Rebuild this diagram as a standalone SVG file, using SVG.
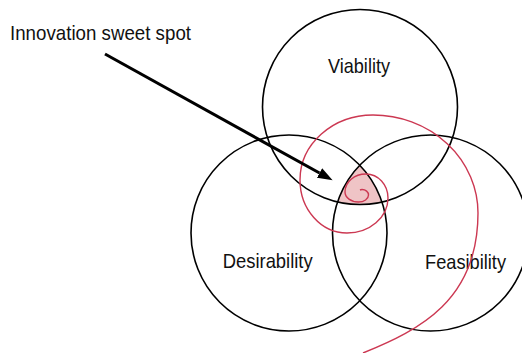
<svg xmlns="http://www.w3.org/2000/svg" width="522" height="353" viewBox="0 0 522 353">
<style>
.ring{fill:none;stroke:#000;stroke-width:1.6}
.lbl{font-family:"Liberation Sans Narrow","Liberation Sans","Arial",sans-serif;font-size:21px;fill:#111}
.spiral{fill:none;stroke:#cc3852;stroke-width:1.4}
.arrow{stroke:#000;stroke-width:3;fill:none}
</style>
<defs>
<clipPath id="cV"><circle cx="360" cy="107" r="97.5"/></clipPath>
<clipPath id="cD"><circle cx="289" cy="233" r="98"/></clipPath>
<marker id="ah" markerUnits="userSpaceOnUse" markerWidth="16" markerHeight="12" refX="0" refY="0" viewBox="0 -6 16 12" orient="auto">
<path d="M0,-5.5 L15,0 L0,5.5 z" fill="#000"/>
</marker>
</defs>
<g id="sweet-spot" clip-path="url(#cV)">
<circle cx="430.5" cy="233" r="98" fill="#efc4c6" clip-path="url(#cD)"/>
</g>
<g id="viability">
<circle class="ring" cx="360" cy="107" r="97.5"/>
<text class="lbl" x="328" y="73.3" textLength="62" lengthAdjust="spacingAndGlyphs">Viability</text>
</g>
<g id="desirability">
<circle class="ring" cx="289" cy="233" r="98"/>
<text class="lbl" x="222.7" y="267.7" textLength="90" lengthAdjust="spacingAndGlyphs">Desirability</text>
</g>
<g id="feasibility">
<circle class="ring" cx="430.5" cy="233" r="98"/>
<text class="lbl" x="425" y="269.3" textLength="81" lengthAdjust="spacingAndGlyphs">Feasibility</text>
</g>
<g id="spiral">
<path class="spiral" d="M360,190 Q361,189.5 362,189.5 A6.5 5.5 0 0 1 368.5,195 A10 7 0 0 1 358.5,202 A13.5 10 0 0 1 345,192 A21 18 0 0 1 366,174 A22 24 0 0 1 388,198 A41 35 0 0 1 347,233 A47 53 0 0 1 300,180 A73 65 0 0 1 373,115 A105 98 0 0 1 478,213 C478,300 420,330 363,353"/>
</g>
<g id="callout">
<text class="lbl" x="10" y="40" textLength="181" lengthAdjust="spacingAndGlyphs">Innovation sweet spot</text>
</g>
<g id="connectors">
<line class="arrow" x1="105" y1="54" x2="319.5" y2="173" marker-end="url(#ah)"/>
</g>
</svg>
